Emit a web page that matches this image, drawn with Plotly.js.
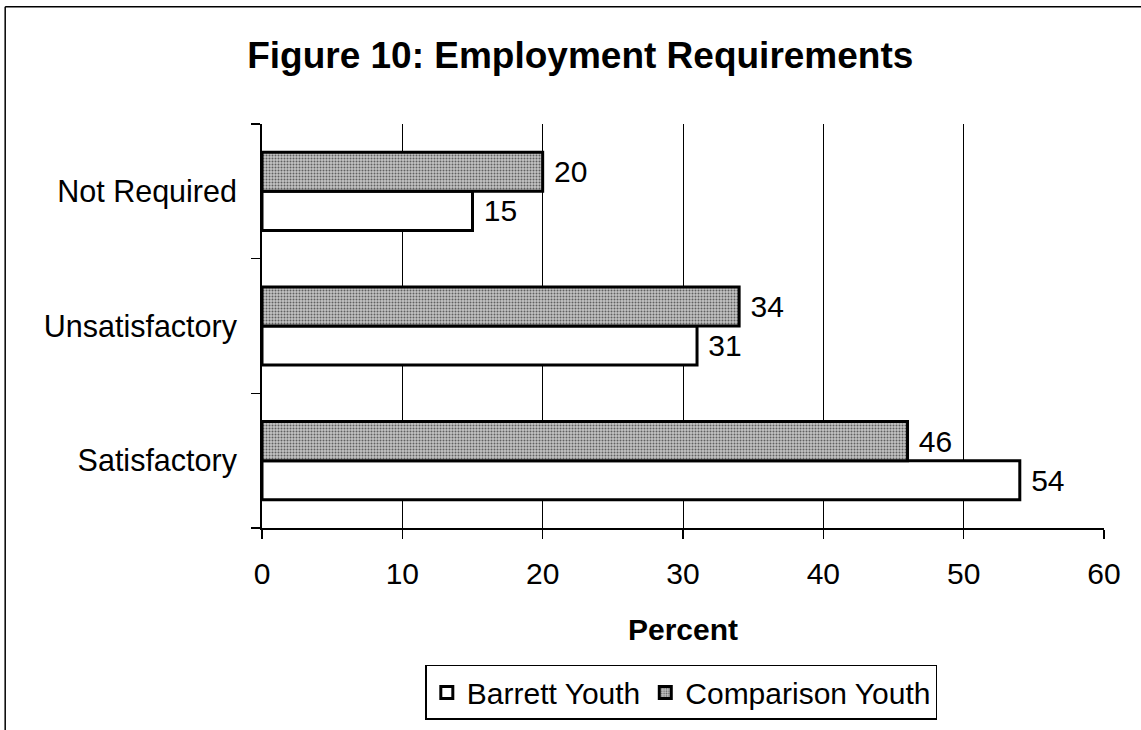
<!DOCTYPE html>
<html>
<head>
<meta charset="utf-8">
<script src="https://cdn.plot.ly/plotly-3.0.1.min.js"></script>
<style>
  body { margin: 0; background: #fff; }
  #chart { width: 1141px; height: 730px; }
</style>
</head>
<body>
<div id="chart"></div>
<script>
// categories bottom to top
var categories = ['Satisfactory', 'Unsatisfactory', 'Not Required'];
var barrett = [54, 31, 15];
var comparison = [46, 34, 20];
var xTicks = [0, 10, 20, 30, 40, 50, 60];

var font = 'Liberation Sans, Arial, sans-serif';

var data = [
  {
    type: 'bar', orientation: 'h', name: 'Barrett Youth',
    y: categories, x: barrett,
    text: barrett.map(function (v) { return ' ' + v; }), textposition: 'outside',
    textfont: {size: 30, color: '#000', family: font},
    cliponaxis: false,
    marker: {color: '#ffffff', line: {color: '#000', width: 3}}
  },
  {
    type: 'bar', orientation: 'h', name: 'Comparison Youth',
    y: categories, x: comparison,
    text: comparison.map(function (v) { return ' ' + v; }), textposition: 'outside',
    textfont: {size: 30, color: '#000', family: font},
    cliponaxis: false,
    marker: {
      color: '#b0b0b0',
      line: {color: '#000', width: 3},
      pattern: {shape: '.', fgcolor: '#606060', bgcolor: '#c4c4c4', size: 3, solidity: 0.35}
    }
  }
];

var layout = {
  width: 1141, height: 730,
  margin: {l: 262, r: 37, t: 124, b: 202, autoexpand: false},
  paper_bgcolor: '#fff', plot_bgcolor: '#fff',
  font: {family: font, size: 30, color: '#000'},
  showlegend: true,
  barmode: 'group',
  bargap: 0.42,
  bargroupgap: 0,
  title: {
    text: '<b>Figure 10: Employment Requirements</b>',
    font: {size: 37, family: font, color: '#000'},
    xref: 'paper', x: 0.378, xanchor: 'center',
    yref: 'container', y: 0.925, yanchor: 'middle'
  },
  xaxis: {
    automargin: false,
    range: [0, 60],
    tickvals: xTicks, ticktext: xTicks.map(String),
    showgrid: true, gridcolor: '#000', gridwidth: 1,
    showline: true, linecolor: '#000', linewidth: 1.5,
    ticks: 'outside', ticklen: 9, tickcolor: '#000', tickwidth: 1.5,
    ticklabelstandoff: 9,
    zeroline: false,
    tickfont: {size: 30},
    title: {text: '<b>Percent</b>', font: {size: 30}, standoff: 30}
  },
  yaxis: {
    automargin: false,
    type: 'category',
    showline: true, linecolor: '#000', linewidth: 2,
    ticks: 'outside', ticklen: 9, tickcolor: '#000', tickwidth: 1.5,
    tickson: 'boundaries',
    showgrid: false, zeroline: false,
    tickfont: {size: 30.5},
    ticksuffix: '  '
  },
  legend: {
    orientation: 'h',
    xref: 'paper', x: 0.498, xanchor: 'center',
    yref: 'paper', y: -0.475, yanchor: 'bottom',
    bordercolor: '#000', borderwidth: 1.5,
    font: {size: 30},
    itemwidth: 30,
    traceorder: 'normal'
  },
  shapes: [
    {type: 'line', xref: 'paper', yref: 'paper', x0: -0.305, x1: -0.305, y0: 1.29, y1: -0.6,
     line: {color: '#000', width: 1.5}},
    {type: 'line', xref: 'paper', yref: 'paper', x0: -0.305, x1: 1.1, y0: 1.29, y1: 1.29,
     line: {color: '#000', width: 1.5}}
  ]
};

Plotly.newPlot('chart', data, layout, {displayModeBar: false, staticPlot: true});
</script>
</body>
</html>
